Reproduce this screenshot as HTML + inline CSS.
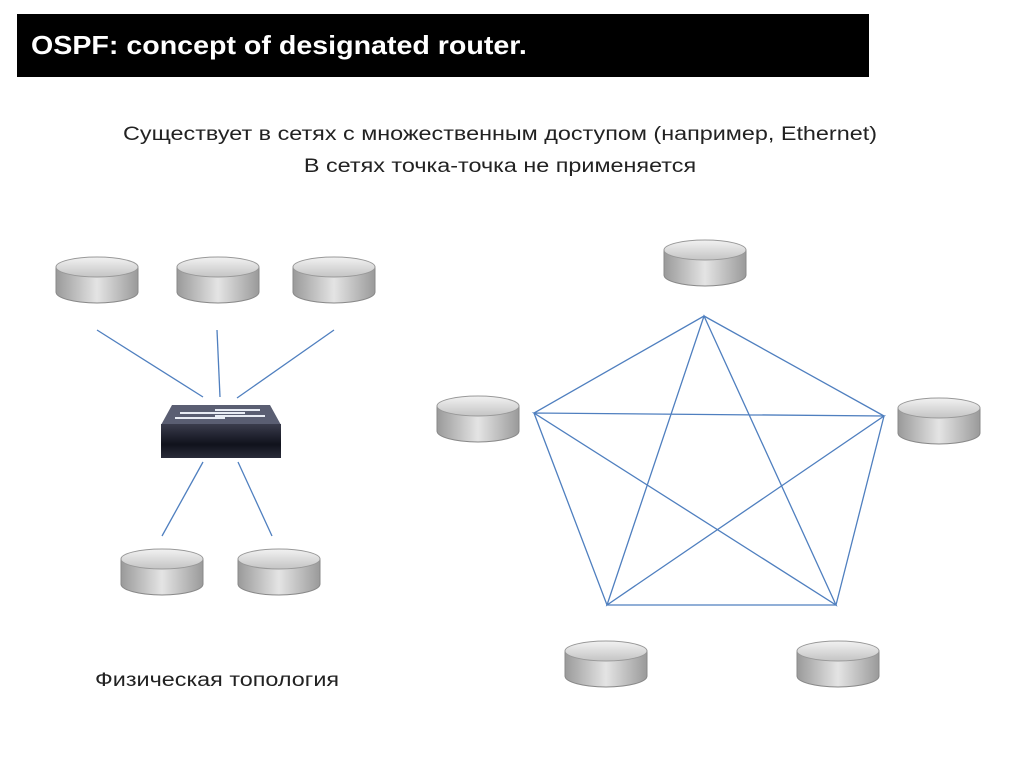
<!DOCTYPE html>
<html><head><meta charset="utf-8"><style>
body{margin:0;width:1024px;height:767px;background:#fff;position:relative;overflow:hidden;font-family:"Liberation Sans","DejaVu Sans",sans-serif}
.bar{position:absolute;left:17px;top:14px;width:852px;height:63px;background:#000}
.bar span{position:absolute;left:14px;top:0;color:#fff;font-weight:bold;font-size:26px;line-height:63px;transform-origin:0 50%;transform:scaleX(1.1);white-space:nowrap}
.t{position:absolute;font-size:19px;color:#222;white-space:nowrap;transform:scaleX(1.23)}
</style></head><body>
<div class="bar"><span>OSPF: concept of designated router.</span></div>
<div class="t" style="left:0;width:1000px;text-align:center;top:124px">Существует в сетях с множественным доступом (например, Ethernet)</div>
<div class="t" style="left:0;width:1000px;text-align:center;top:156px">В сетях точка-точка не применяется</div>
<div class="t" style="left:95px;top:670px;transform-origin:0 50%">Физическая топология</div>
<svg width="1024" height="767" style="position:absolute;left:0;top:0">
<defs>
<linearGradient id="side" x1="0" x2="1"><stop offset="0" stop-color="#9a9a9a"/><stop offset="0.5" stop-color="#e4e4e4"/><stop offset="1" stop-color="#9a9a9a"/></linearGradient>
<linearGradient id="top" x1="0" y1="0" x2="0" y2="1"><stop offset="0" stop-color="#f2f2f2"/><stop offset="1" stop-color="#c4c4c4"/></linearGradient>
<linearGradient id="sw" x1="0" y1="0" x2="0" y2="1"><stop offset="0" stop-color="#3a3c4c"/><stop offset="0.6" stop-color="#10121c"/><stop offset="1" stop-color="#2a2c3a"/></linearGradient>
<symbol id="r" viewBox="0 0 84 48"><path d="M1 11 V36 A41 11 0 0 0 83 36 V11 Z" fill="url(#side)" stroke="#888" stroke-width="1"/><ellipse cx="42" cy="11" rx="41" ry="10" fill="url(#top)" stroke="#999"/></symbol>
</defs>
<g stroke="#4f7fbf" stroke-width="1.3" fill="none">
<line x1="97" y1="330" x2="203" y2="397"/><line x1="217" y1="330" x2="220" y2="397"/><line x1="334" y1="330" x2="237" y2="398"/>
<line x1="203" y1="462" x2="162" y2="536"/><line x1="238" y1="462" x2="272" y2="536"/>
<polygon points="704,316 884,416 836,605 607,605 534,413"/>
<polygon points="704,316 836,605 534,413 884,416 607,605"/>
</g>
<use href="#r" x="55" y="256" width="84" height="48"/>
<use href="#r" x="176" y="256" width="84" height="48"/>
<use href="#r" x="292" y="256" width="84" height="48"/>
<use href="#r" x="120" y="548" width="84" height="48"/>
<use href="#r" x="237" y="548" width="84" height="48"/>
<use href="#r" x="663" y="239" width="84" height="48"/>
<use href="#r" x="436" y="395" width="84" height="48"/>
<use href="#r" x="897" y="397" width="84" height="48"/>
<use href="#r" x="564" y="640" width="84" height="48"/>
<use href="#r" x="796" y="640" width="84" height="48"/>
<polygon points="172,405 270,405 281,425 161,425" fill="#5a5e72"/>
<rect x="161" y="424" width="120" height="34" fill="url(#sw)"/>
<g stroke="#e8ecf4" stroke-width="2"><line x1="180" y1="413" x2="245" y2="413"/><line x1="175" y1="418" x2="225" y2="418"/><line x1="215" y1="410" x2="260" y2="410"/><line x1="215" y1="416" x2="265" y2="416"/></g>
</svg>
</body></html>
